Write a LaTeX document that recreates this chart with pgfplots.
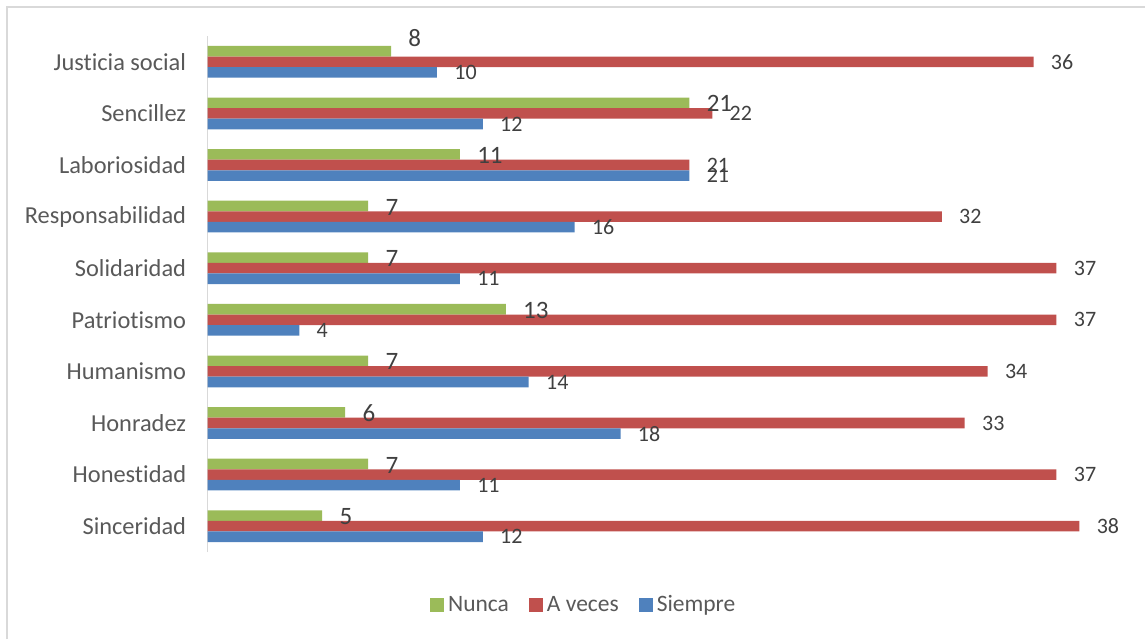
\documentclass[border=0pt]{standalone}
\usepackage{pgfplots}
\pgfplotsset{compat=1.18}
\usepackage{pgfplotstable}
\usepackage{fontspec}
\setmainfont{Carlito}[Ligatures={NoCommon,NoContextual}]
\definecolor{cG}{HTML}{9BBB59}
\definecolor{cR}{HTML}{C0504D}
\definecolor{cB}{HTML}{4F81BD}
\definecolor{txt}{HTML}{595959}
\definecolor{lbl}{HTML}{404040}
\definecolor{frm}{HTML}{D9D9D9}

\pgfplotstableread{
y nunca dy veces siempre
0 5 -0.5 38 12
1 7 -0.5 37 11
2 6 -0.5 33 18
3 7 -0.5 34 14
4 13 -0.5 37 4
5 7 -0.5 37 11
6 7 -0.5 32 16
7 11 -0.5 21 21
8 21 -0.5 22 12
9 8 6.5 36 10
}\datatable

\begin{document}
\begin{tikzpicture}
\useasboundingbox (0,0) rectangle (572.5pt,319.5pt);
\draw[frm, line width=0.75pt] (3.5pt,0) -- (3.5pt,316pt) -- (572.5pt,316pt);
\begin{axis}[
  at={(103.75pt,43.5pt)}, anchor=south west,
  scale only axis, width=458.9pt, height=258pt,
  xbar, xmin=0, xmax=40, ymin=-0.5, ymax=9.5,
  bar width=0.205,
  clip=false,
  axis x line=none, axis y line*=left,
  y axis line style={draw=frm, line width=0.75pt},
  ytick={0,...,9},
  yticklabels={Sinceridad,Honestidad\hspace{2.7pt},Honradez,Humanismo,Patriotismo,Solidaridad,Responsabilidad,Laboriosidad,Sencillez,Justicia social\hspace{2.7pt}},
  major tick length=0pt,
  yticklabel style={font=\fontsize{12.2}{14}\selectfont, text=txt, inner sep=0pt, xshift=-10.5pt},
  /pgf/number format/assume math mode=true,
  nodes near coords,
  every node near coord/.append style={anchor=west, inner sep=0pt, xshift=8.5pt, text=lbl},
  legend style={at={(0.411,-0.1027)}, anchor=center, draw=none, fill=none,
    legend columns=3, font=\fontsize{11.75}{14}\selectfont, text=txt,
    /tikz/every even column/.append style={column sep=8pt}},
  legend image code/.code={\fill[#1] (0pt,-3.5pt) rectangle (7pt,3.5pt);},
]
\addplot[fill=cG, draw=none, bar shift=0.205, forget plot,
  visualization depends on={\thisrow{dy}\as\dy},
  every node near coord/.append style={font=\fontsize{12.5}{14}\selectfont, yshift=\dy pt}]
  table[x=nunca, y=y]{\datatable};
\addplot[fill=cR, draw=none, bar shift=0, forget plot,
  every node near coord/.append style={font=\fontsize{11}{13}\selectfont}]
  table[x=veces, y=y]{\datatable};
\addplot[fill=cB, draw=none, bar shift=-0.205, forget plot,
  every node near coord/.append style={font=\fontsize{11}{13}\selectfont}]
  table[x=siempre, y=y]{\datatable};
\addlegendimage{fill=cG, draw=none}
\addlegendentry{Nunca}
\addlegendimage{fill=cR, draw=none}
\addlegendentry{A veces}
\addlegendimage{fill=cB, draw=none}
\addlegendentry{Siempre}
\end{axis}
\end{tikzpicture}
\end{document}
